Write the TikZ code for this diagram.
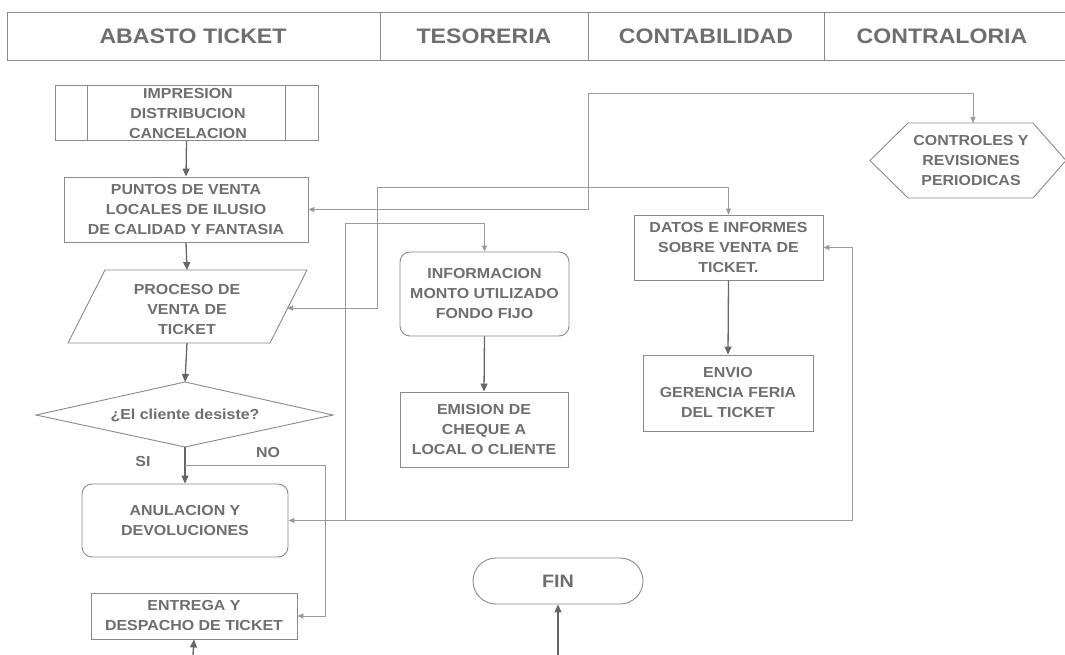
\documentclass[tikz,border=0pt]{standalone}
\usepackage{fontspec}
\setmainfont{Liberation Sans}[FakeStretch=1.1]
\usetikzlibrary{arrows.meta}
\definecolor{txt}{HTML}{6E6E6E}
\definecolor{edge}{HTML}{8A8A8A}
\definecolor{flow}{HTML}{666666}
\definecolor{thin}{HTML}{9A9A9A}
\tikzset{
  >={Triangle[length=6pt,width=5pt]},
  lbl/.style={font=\fontsize{14.5}{20}\selectfont\bfseries, text=txt, align=center, inner sep=0pt},
  hdr/.style={font=\fontsize{21}{24}\selectfont\bfseries, text=txt, inner sep=0pt},
  box/.style={lbl, draw=edge, line width=0.9pt},
  rbox/.style={box, rounded corners=10pt},
  flowarrow/.style={draw=flow, line width=1.3pt, -{Triangle[length=8pt,width=7pt]}},
  conn/.style={draw=thin, line width=0.8pt},
  shapeline/.style={draw=edge, line width=0.9pt},
}
\begin{document}
\begin{tikzpicture}[x=1pt, y=-1pt]
\useasboundingbox (0,0) rectangle (1065,655);
\fill[white] (0,0) rectangle (1065,655);

% header band with the four swimlane titles
\draw[shapeline] (1065,12) -- (7,12) -- (7,60) -- (1065,60);
\draw[shapeline] (380,12) -- (380,60);
\draw[shapeline] (588,12) -- (588,60);
\draw[shapeline] (824,12) -- (824,60);
\node[hdr] (h1) at (193,36) {ABASTO TICKET};
\node[hdr] (h2) at (484,36) {TESORERIA};
\node[hdr] (h3) at (706,36) {CONTABILIDAD};
\node[hdr] (h4) at (942,36) {CONTRALORIA};

% predefined process
\node[box, minimum width=263pt, minimum height=55pt] (impr) at (186.5,112.5) {};
\draw[shapeline] (87,85) -- (87,140);
\draw[shapeline] (285,85) -- (285,140);
\node[lbl] (imprtxt) at (188,114) {IMPRESION\\DISTRIBUCION\\CANCELACION};

\node[box, minimum width=244pt, minimum height=65pt] (puntos) at (186,209.5)
  {PUNTOS DE VENTA\\LOCALES DE ILUSIO\\DE CALIDAD Y FANTASIA};

% parallelogram (input/output)
\node[lbl] (proc) at (187,310) {PROCESO DE\\VENTA DE\\TICKET};
\draw[shapeline] (105,270) -- (307,270) -- (270,343) -- (68,343) -- cycle;
\coordinate (proctop) at (187,270);
\coordinate (procbot) at (187,343);
\coordinate (procright) at (287,308);

% decision
\draw[shapeline] (36,415) -- (185,382) -- (333,415) -- (185,447) -- cycle;
\node[lbl] (dec) at (185,415) {¿El cliente desiste?};
\coordinate (dectop) at (185,382);
\coordinate (decbot) at (185,447);
\node[lbl] (si) at (143,462) {SI};
\node[lbl] (no) at (268,453) {NO};

\node[rbox, minimum width=206pt, minimum height=73pt] (anul) at (185,520.5)
  {ANULACION Y\\DEVOLUCIONES};
\node[box, minimum width=206pt, minimum height=46pt] (entrega) at (194,616)
  {ENTREGA Y\\DESPACHO DE TICKET};

\node[rbox, minimum width=169pt, minimum height=84pt] (info) at (484.5,294)
  {INFORMACION\\MONTO UTILIZADO\\FONDO FIJO};
\node[box, minimum width=168pt, minimum height=75pt] (emision) at (484,429.5)
  {EMISION DE\\CHEQUE A\\LOCAL O CLIENTE};

\node[box, minimum width=189pt, minimum height=65pt] (datos) at (728.5,247.5)
  {DATOS E INFORMES\\SOBRE VENTA DE\\TICKET.};
\node[box, minimum width=170pt, minimum height=76pt] (envio) at (728,393)
  {ENVIO\\GERENCIA FERIA\\DEL TICKET};

% hexagon (preparation)
\draw[shapeline] (870,160.5) -- (908,123) -- (1033,123) -- (1066,160.5) -- (1033,198) -- (908,198) -- cycle;
\node[lbl] (ctrl) at (971,161) {CONTROLES Y\\REVISIONES\\PERIODICAS};
\coordinate (ctrltop) at (973,123);

% terminator
\node[box, rounded corners=23pt, minimum width=170pt, minimum height=46pt,
      font=\fontsize{18}{20}\selectfont\bfseries] (fin) at (558,581) {FIN};

% main flow
\draw[flowarrow] (impr.south) -- (puntos.north);
\draw[flowarrow] (puntos.south) -- (proctop);
\draw[flowarrow] (procbot) -- (dectop);
\draw[flowarrow] (decbot) -- (anul.north);
\draw[flowarrow] (info.south) -- (emision.north);
\draw[flowarrow] (datos.south) -- (envio.north);
\coordinate (inEntrega) at (193,655);
\coordinate (inFin) at (558,655);
\draw[flowarrow] (inEntrega) -- (entrega.south);
\draw[flowarrow] (inFin) -- (fin.south);

% NO branch
\coordinate (nofork) at (185,465);
\draw[conn, ->] (nofork) -- (325,465) |- (entrega.east);

% cross-lane information links
\draw[conn, <->] (puntos.east) -- (588,209.5) -- (588,93) -| (ctrltop);
\draw[conn, <->] (procright) -- (377,308) -- (377,187) -| (datos.north);
\draw[conn, <->] (anul.east) -- (852,520.5) |- (datos.east);
\draw[conn, ->] (345,520.5) -- (345,223) -| (info.north);
\end{tikzpicture}
\end{document}
